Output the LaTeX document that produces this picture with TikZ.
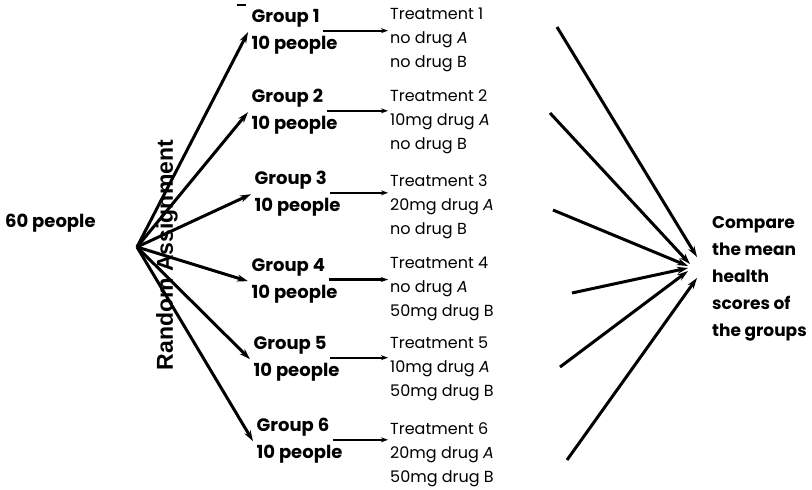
\documentclass[tikz,border=0pt]{standalone}
\usepackage{fontspec}
\setmainfont{Poppins}
\newfontfamily\randfont{Liberation Sans}
\usepackage{tikz}
\usetikzlibrary{positioning,arrows.meta}

\tikzset{
  grp/.style={anchor=west,inner sep=3.5pt,font=\bfseries\fontsize{18}{20}\selectfont},
  trt/.style={anchor=north west,inner sep=2pt,align=left,font=\fontsize{16}{24}\selectfont},
  fan/.style={-{Stealth[length=11pt,width=7pt]},line width=3pt},
  small/.style={-{Stealth[length=7pt,width=5pt]},line width=2.2pt},
}

\begin{document}
\begin{tikzpicture}[x=1pt,y=-1pt]
  \useasboundingbox (0,0) rectangle (812,490);
  \draw[line width=1.5pt] (237,5) -- (246,5);

  \node[grp,anchor=west,inner sep=0pt] (all) at (5,223) {60 people};
  \coordinate (src) at (137,247);
  \node[rotate=90,font=\randfont\bfseries\fontsize{23}{25}\selectfont] (rand) at (167,255) {Random Assignment};

  \foreach \i/\gx/\gy/\ty/\da/\db in {1/248/18/16/no/no,2/248/98/98/10mg/no,3/251/180/183/20mg/no,
      4/248/267/265/no/50mg,5/250/345/345/10mg/50mg,6/253/427/430/20mg/50mg}{%
    \node[grp] (g\i) at (\gx,\gy) {Group \i};
    \node[grp] (p\i) at (\gx,\gy+27) {10 people};
    \node[trt] (t\i) at (388,\ty-10) {Treatment \i\\\da{} drug \textit{A}\\\db{} drug B};
    \draw[fan] (src) -- (p\i.north west);
    \draw[small] (g\i.south east) -- (g\i.south east -| t\i.west);
  }

  \node[anchor=north west,inner sep=0pt,align=left,font=\bfseries\fontsize{17}{27}\selectfont] (cmp) at (712,216)
    {Compare\\the mean\\health\\scores of\\the groups};

  \foreach \i/\sx/\sy/\ex/\ey in {1/557/27/697/257,2/550/113/690/264,3/553/210/688/266,
      4/572/293/688/268,5/560/367/688/271,6/567/460/697/278}{%
    \coordinate (s\i) at (\sx,\sy);
    \coordinate (e\i) at (\ex,\ey);
    \draw[fan] (s\i) -- (e\i);
  }
\end{tikzpicture}
\end{document}
